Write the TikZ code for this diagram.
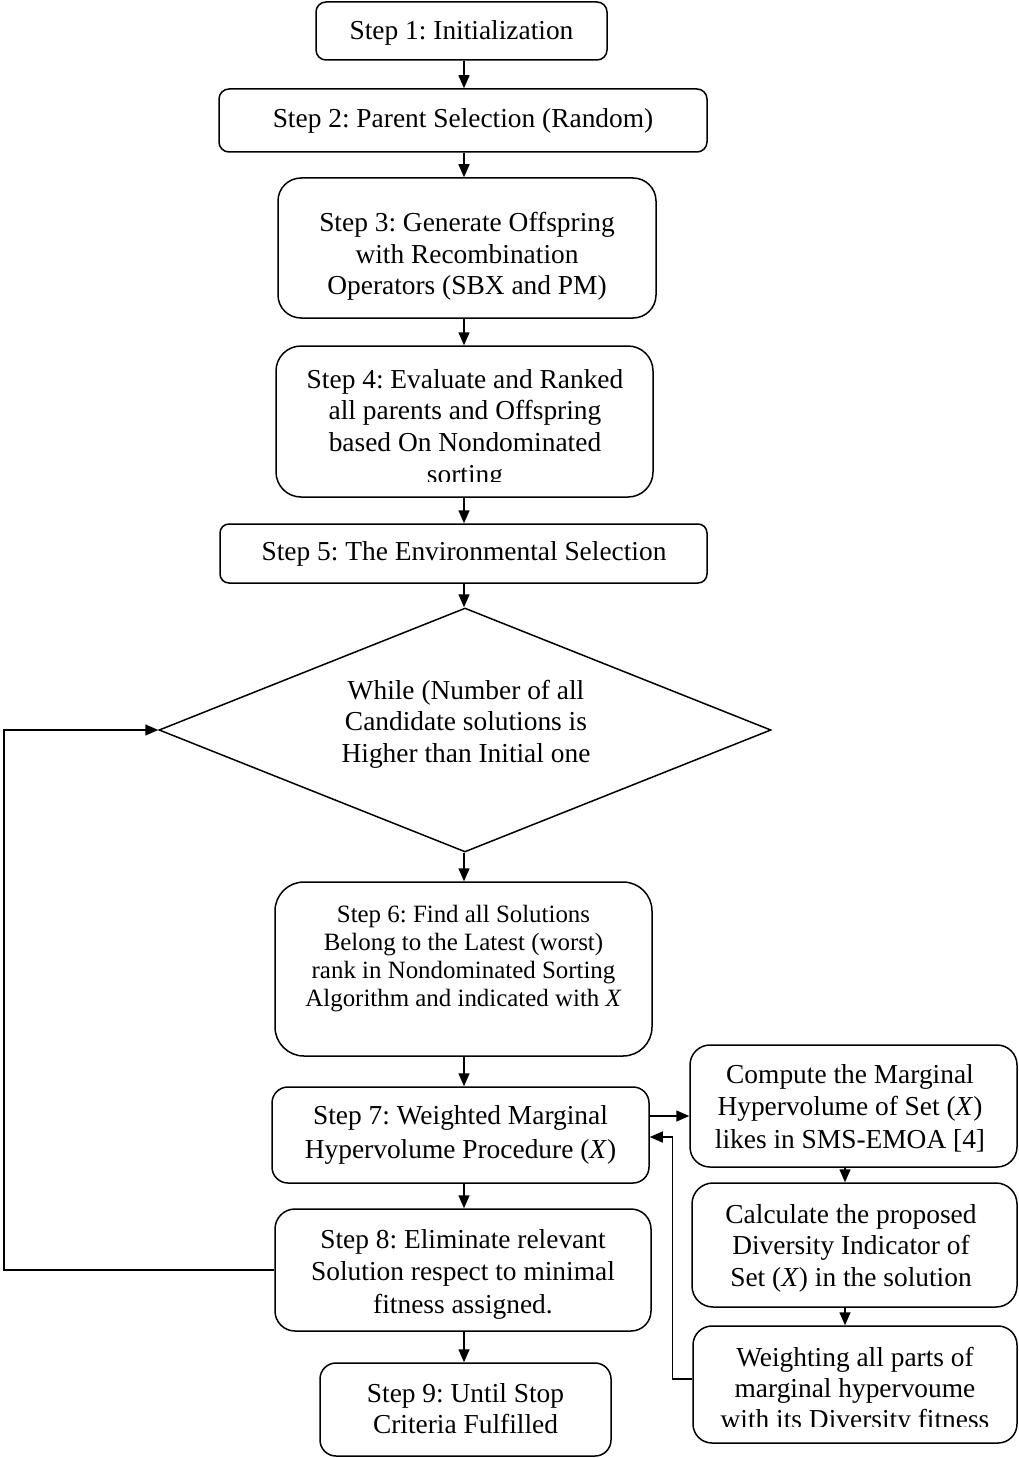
\documentclass[tikz,border=0pt]{standalone}
\usepackage{fontspec}
\setmainfont{Liberation Serif}
\usetikzlibrary{arrows.meta,shapes.geometric}
\setlength{\tabcolsep}{0pt}
\frenchspacing
\newcommand{\ml}[1]{\begin{tabular}[t]{c}#1\end{tabular}}
\begin{document}
\begin{tikzpicture}[x=1pt,y=-1pt,
  box/.style={draw, line width=1.5pt, inner sep=0pt},
  txt/.style={anchor=base, inner sep=0pt, font=\fontsize{27.4pt}{31.5pt}\selectfont},
  arr/.style={-{Triangle[length=13pt,width=11pt]}, line width=1.5pt}]
\useasboundingbox (0,0) rectangle (1019,1458);

% boxes
\node[box, minimum width=291pt, minimum height=58pt, rounded corners=10pt] (s1) at (461.5,31) {};
\node[box, minimum width=488pt, minimum height=63pt, rounded corners=10pt] (s2) at (463,120.5) {};
\node[box, minimum width=378pt, minimum height=140pt, rounded corners=23pt] (s3) at (467,248) {};
\node[box, minimum width=377pt, minimum height=151pt, rounded corners=25pt] (s4) at (464.5,421.5) {};
\node[box, minimum width=487pt, minimum height=59pt, rounded corners=9pt] (s5) at (463.5,553.5) {};
\node[box, diamond, minimum width=612pt, minimum height=244pt, rounded corners=0pt] (d) at (465,730) {};
\node[box, minimum width=377pt, minimum height=174pt, rounded corners=29pt] (s6) at (463.5,969) {};
\node[box, minimum width=377pt, minimum height=96pt, rounded corners=16pt] (s7) at (460.5,1135) {};
\node[box, minimum width=376pt, minimum height=122pt, rounded corners=20pt] (s8) at (463,1270) {};
\node[box, minimum width=291pt, minimum height=93pt, rounded corners=16pt] (s9) at (465.5,1409.5) {};
\node[box, minimum width=327pt, minimum height=122pt, rounded corners=20pt] (c1) at (853.5,1106) {};
\node[box, minimum width=325pt, minimum height=124pt, rounded corners=21pt] (c2) at (854.5,1245) {};
\node[box, minimum width=324pt, minimum height=117pt, rounded corners=19pt] (c3) at (855,1384.5) {};

% texts
\node[txt] (t1) at (461.5,40) {\ml{Step 1: Initialization}};
\node[txt] (t2) at (463,128) {\ml{Step 2: Parent Selection (Random)}};
\node[txt] (t3) at (467,231.5) {\ml{Step 3: Generate Offspring\\with Recombination\\Operators (SBX and PM)}};
\begin{scope}
\clip (270,340) rectangle (660,481);
\node[txt, font=\fontsize{27.4pt}{31.7pt}\selectfont] (t4) at (465,388) {\ml{Step 4: Evaluate and Ranked\\all parents and Offspring\\based On Nondominated\\sorting}};
\end{scope}
\node[txt] (t5) at (464,560) {\ml{Step 5: The Environmental Selection}};
\node[txt] (td) at (466,699) {\ml{While (Number of all\\Candidate solutions is\\Higher than Initial one}};
\node[txt, font=\fontsize{24.9pt}{28pt}\selectfont] (t6) at (463.5,922.7) {\ml{Step 6: Find all Solutions\\Belong to the Latest (worst)\\rank in Nondominated Sorting\\Algorithm and indicated with \textit{X}}};
\node[txt, font=\fontsize{27.4pt}{33.5pt}\selectfont] (t7) at (460.5,1124.5) {\ml{Step 7: Weighted Marginal\\Hypervolume Procedure (\textit{X})}};
\node[txt, font=\fontsize{27.4pt}{32.5pt}\selectfont] (t8) at (463,1248) {\ml{Step 8: Eliminate relevant\\Solution respect to minimal\\fitness assigned.}};
\node[txt] (t9) at (465.5,1402) {\ml{Step 9: Until Stop\\Criteria Fulfilled}};
\node[txt, font=\fontsize{27.4pt}{32.5pt}\selectfont] (tc1) at (850,1083) {\ml{Compute the Marginal\\Hypervolume of Set (\textit{X})\\likes in SMS-EMOA [4]}};
\node[txt] (tc2) at (851,1223) {\ml{Calculate the proposed\\Diversity Indicator of\\Set (\textit{X}) in the solution}};
\begin{scope}
\clip (690,1320) rectangle (1019,1426.5);
\node[txt, font=\fontsize{27.4pt}{31pt}\selectfont] (tc3) at (855,1366) {\ml{Weighting all parts of\\marginal hypervoume\\with its Diversity fitness}};
\end{scope}

% connectors
\coordinate (ax) at (464,0);
\coordinate (rx) at (845,0);
\coordinate (lp) at (4,730);
\draw[arr] (s1.south -| ax) -- (s2.north -| ax);
\draw[arr] (s2.south -| ax) -- (s3.north -| ax);
\draw[arr] (s3.south -| ax) -- (s4.north -| ax);
\draw[arr] (s4.south -| ax) -- (s5.north -| ax);
\draw[arr] (s5.south -| ax) -- (d.north -| ax);
\draw[arr] (d.south -| ax) -- (s6.north -| ax);
\draw[arr] (s6.south -| ax) -- (s7.north -| ax);
\draw[arr] (s7.south -| ax) -- (s8.north -| ax);
\draw[arr] (s8.south -| ax) -- (s9.north -| ax);
\draw[arr] (c1.south -| rx) -- (c2.north -| rx);
\draw[arr] (c2.south -| rx) -- (c3.north -| rx);
\draw[arr] ([yshift=19pt]s7.east) -- ([yshift=19pt]s7.east -| c1.west);
\draw[arr] ([yshift=5.5pt]c3.west) -- ++(-20,0) |- ([yshift=-2pt]s7.east);
\draw[arr] (s8.west) -| (lp) -- (d.west);
\end{tikzpicture}
\end{document}
